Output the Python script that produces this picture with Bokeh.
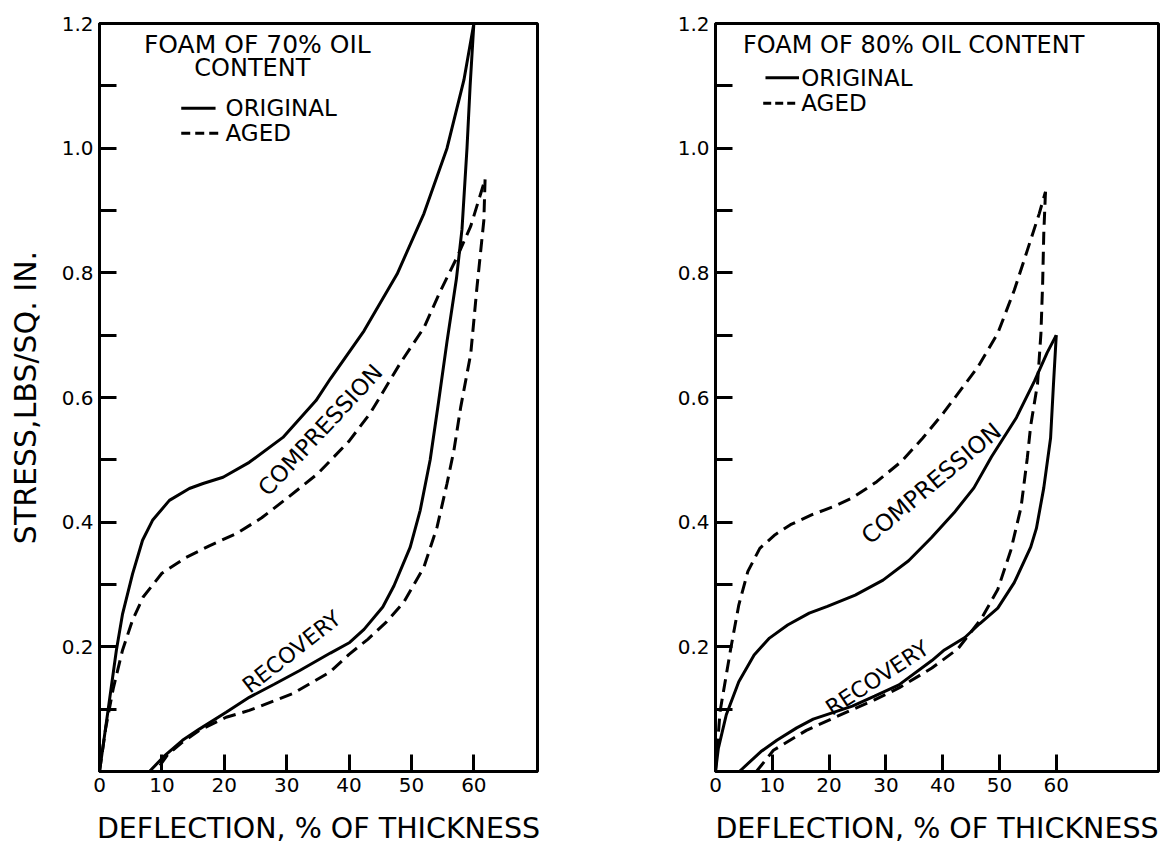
import math
from bokeh.plotting import figure
from bokeh.layouts import row
from bokeh.models import Range1d, FixedTicker, PrintfTickFormatter
from bokeh.embed import file_html
from bokeh.resources import INLINE
from bokeh.core.properties import value

FONT = "DejaVu Sans"

# ---------------- data: foam of 70% oil content ----------------
oil70_orig_comp_x = [0, 1.3, 2.7, 3.7, 5.3, 6.9, 8.5, 11.2, 14.4, 16.6, 19.8, 24.0, 29.4, 34.7, 37.0, 42.4, 47.7, 52.0, 55.7, 58.4, 60.0]
oil70_orig_comp_y = [0, 0.093, 0.194, 0.253, 0.317, 0.371, 0.403, 0.435, 0.454, 0.462, 0.472, 0.496, 0.536, 0.595, 0.630, 0.707, 0.798, 0.895, 1.0, 1.109, 1.2]
oil70_orig_rec_x = [60.0, 59.4, 58.9, 58.1, 57.2, 55.7, 54.3, 53.0, 51.4, 49.8, 47.2, 45.4, 42.4, 40.1, 37.0, 32.1, 28.0, 24.0, 20.3, 16.0, 13.3, 10.5, 8.0]
oil70_orig_rec_y = [1.2, 1.1, 1.0, 0.87, 0.79, 0.69, 0.59, 0.50, 0.419, 0.36, 0.298, 0.264, 0.228, 0.207, 0.19, 0.162, 0.14, 0.119, 0.095, 0.068, 0.05, 0.026, 0.0]
oil70_aged_comp_x = [0, 1.0, 2.2, 3.7, 5.3, 7.0, 10.0, 13.8, 17.6, 22.0, 26.0, 30.0, 35.0, 40.0, 43.4, 48.2, 52.0, 54.6, 57.3, 59.5, 61.8]
oil70_aged_comp_y = [0, 0.07, 0.133, 0.195, 0.243, 0.28, 0.318, 0.343, 0.362, 0.382, 0.407, 0.438, 0.478, 0.53, 0.575, 0.655, 0.712, 0.77, 0.825, 0.875, 0.95]
oil70_aged_rec_x = [61.8, 61.6, 60.5, 59.5, 57.9, 56.8, 55.7, 54.1, 52.0, 48.8, 46.0, 43.0, 40.0, 37.0, 31.0, 24.0, 20.3, 16.0, 13.3, 11.0, 9.0]
oil70_aged_rec_y = [0.95, 0.884, 0.777, 0.67, 0.585, 0.515, 0.462, 0.392, 0.328, 0.272, 0.24, 0.212, 0.188, 0.16, 0.125, 0.098, 0.087, 0.066, 0.047, 0.028, 0.0]

# ---------------- data: foam of 80% oil content ----------------
oil80_orig_comp_x = [0, 0.5, 1.9, 4.1, 6.8, 9.5, 12.7, 16.5, 19.7, 24.6, 29.5, 34.0, 38.0, 42.0, 45.5, 48.6, 53.0, 56.2, 58.4, 60.0]
oil80_orig_comp_y = [0, 0.037, 0.091, 0.144, 0.187, 0.214, 0.235, 0.254, 0.265, 0.283, 0.307, 0.338, 0.375, 0.415, 0.455, 0.505, 0.568, 0.627, 0.672, 0.70]
oil80_orig_rec_x = [60.0, 59.5, 59.0, 57.8, 56.5, 55.5, 52.6, 49.7, 46.5, 43.9, 40.3, 38.1, 32.3, 28.0, 24.1, 17.2, 14.3, 10.8, 8.0, 4.2]
oil80_orig_rec_y = [0.70, 0.62, 0.535, 0.455, 0.39, 0.36, 0.303, 0.262, 0.237, 0.215, 0.195, 0.178, 0.139, 0.121, 0.105, 0.084, 0.07, 0.05, 0.032, 0.0]
oil80_aged_comp_x = [0, 0.8, 2.7, 4.1, 5.7, 7.8, 10.5, 13.2, 17.0, 20.8, 24.1, 28.4, 32.7, 36.5, 40.2, 46.2, 49.7, 52.6, 54.9, 57.0, 58.1]
oil80_aged_comp_y = [0, 0.096, 0.198, 0.267, 0.321, 0.358, 0.38, 0.396, 0.412, 0.425, 0.439, 0.465, 0.497, 0.535, 0.576, 0.649, 0.703, 0.772, 0.836, 0.895, 0.93]
oil80_aged_rec_x = [58.1, 57.8, 57.6, 57.3, 56.7, 55.5, 54.9, 53.8, 52.0, 49.7, 46.8, 42.7, 38.1, 32.3, 28.0, 23.5, 16.0, 10.2, 7.2]
oil80_aged_rec_y = [0.93, 0.863, 0.783, 0.703, 0.622, 0.555, 0.503, 0.424, 0.355, 0.292, 0.245, 0.197, 0.166, 0.134, 0.115, 0.097, 0.066, 0.034, 0.0]

x_ticks = [0, 10, 20, 30, 40, 50, 60]
y_major_ticks = [0.2, 0.4, 0.6, 0.8, 1.0, 1.2]
y_minor_ticks = [0.1, 0.3, 0.5, 0.7, 0.9, 1.1]

X_LABEL = "DEFLECTION, % OF THICKNESS"
Y_LABEL = "STRESS,LBS/SQ. IN."
DASH = "13 7"


def make_panel(frame_w, x_max, border_l, border_r, show_ylabel):
    p = figure(frame_width=frame_w, frame_height=748,
               min_border_left=border_l, min_border_right=border_r,
               min_border_top=23, min_border_bottom=70,
               x_range=Range1d(0, x_max), y_range=Range1d(0, 1.2),
               output_backend="svg", toolbar_location=None)
    p.grid.visible = False
    p.outline_line_color = "black"
    p.outline_line_width = 3
    p.background_fill_color = "white"
    p.border_fill_color = "white"

    xa = p.xaxis[0]
    xa.ticker = FixedTicker(ticks=x_ticks)
    xa.axis_label = X_LABEL
    ya = p.yaxis[0]
    ya.ticker = FixedTicker(ticks=y_major_ticks, minor_ticks=y_minor_ticks)
    ya.formatter = PrintfTickFormatter(format="%.1f")
    if show_ylabel:
        ya.axis_label = Y_LABEL
    for ax in (xa, ya):
        ax.axis_line_width = 3
        ax.axis_line_color = "black"
        ax.major_tick_in = 17
        ax.major_tick_out = 0
        ax.minor_tick_in = 17
        ax.minor_tick_out = 0
        ax.major_tick_line_width = 3
        ax.minor_tick_line_width = 3
        ax.major_label_text_font = FONT
        ax.major_label_text_font_size = "20px"
        ax.major_label_text_color = "black"
        ax.major_label_standoff = 6
        ax.axis_label_text_font = FONT
        ax.axis_label_text_font_style = "normal"
        ax.axis_label_text_color = "black"
    xa.axis_label_text_font_size = "28.5px"
    ya.axis_label_text_font_size = "30px"
    xa.axis_label_standoff = 17
    ya.axis_label_standoff = 16
    return p


def draw_curves(p, oc_x, oc_y, or_x, or_y, ac_x, ac_y, ar_x, ar_y):
    p.line(oc_x, oc_y, line_color="black", line_width=3)
    p.line(or_x, or_y, line_color="black", line_width=3)
    p.line(ac_x, ac_y, line_color="black", line_width=3, line_dash=DASH)
    p.line(ar_x, ar_y, line_color="black", line_width=3, line_dash=DASH)


def label(p, x, y, txt, size, angle_deg=0, align="center"):
    p.text([x], [y], text=[txt], angle=math.radians(angle_deg),
           text_font=value(FONT), text_font_size=size, text_color="black",
           text_align=align, text_baseline="middle")


# ---------------- left panel ----------------
p1 = make_panel(438, 70.2, 99, 60, True)
draw_curves(p1, oil70_orig_comp_x, oil70_orig_comp_y, oil70_orig_rec_x, oil70_orig_rec_y,
            oil70_aged_comp_x, oil70_aged_comp_y, oil70_aged_rec_x, oil70_aged_rec_y)
label(p1, 25.3, 1.166, "FOAM OF 70% OIL", "25px")
label(p1, 24.5, 1.128, "CONTENT", "24px")
p1.segment([13.1], [1.064], [18.6], [1.064], line_color="black", line_width=3)
p1.segment([13.1], [1.024], [19.1], [1.024], line_color="black", line_width=3, line_dash="9 5")
label(p1, 20.2, 1.064, "ORIGINAL", "23px", align="left")
label(p1, 20.2, 1.024, "AGED", "23px", align="left")
label(p1, 35.4, 0.548, "COMPRESSION", "23px", 47)
label(p1, 30.8, 0.192, "RECOVERY", "22px", 38)

# ---------------- right panel ----------------
p2 = make_panel(443, 78.0, 118, 2, False)
draw_curves(p2, oil80_orig_comp_x, oil80_orig_comp_y, oil80_orig_rec_x, oil80_orig_rec_y,
            oil80_aged_comp_x, oil80_aged_comp_y, oil80_aged_rec_x, oil80_aged_rec_y)
label(p2, 34.9, 1.166, "FOAM OF 80% OIL CONTENT", "24px")
p2.segment([8.8], [1.113], [14.7], [1.113], line_color="black", line_width=3)
p2.segment([8.4], [1.072], [14.7], [1.072], line_color="black", line_width=3, line_dash="8 4")
label(p2, 15.1, 1.113, "ORIGINAL", "23px", align="left")
label(p2, 15.1, 1.072, "AGED", "23px", align="left")
label(p2, 38.0, 0.462, "COMPRESSION", "23.5px", 40)
label(p2, 28.5, 0.15, "RECOVERY", "22px", 33)

layout = row(p1, p2)
open("out.html", "w").write(file_html(layout, INLINE))
